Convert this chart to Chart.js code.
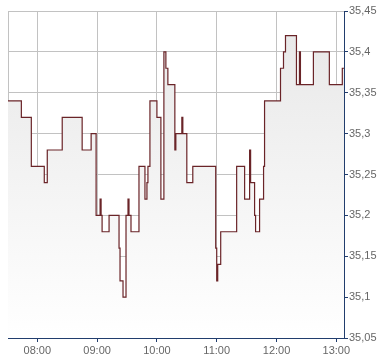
<!DOCTYPE html>
<html>
<head>
<meta charset="utf-8">
<script src="https://cdn.jsdelivr.net/npm/chart.js@4"></script>
<style>
html,body{margin:0;padding:0;background:#fff;}
#wrap{width:390px;height:364px;position:relative;}
</style>
</head>
<body>
<div id="wrap"><canvas id="c" width="390" height="364"></canvas></div>
<script>
const times = ["07:30","07:44","07:54","08:07","08:10","08:25","08:45","08:54","08:59","09:03",
"09:04","09:05","09:12","09:22","09:23","09:26","09:29","09:31","09:32","09:34",
"09:42","09:48","09:50","09:51","09:53","10:00","10:04","10:07","10:09","10:11",
"10:18","10:19","10:25","10:26","10:30","10:36","10:59","11:00","11:01","11:04",
"11:20","11:28","11:33","11:34","11:38","11:39","11:43","11:47","11:48","12:04",
"12:07","12:09","12:20","12:23","12:24","12:37","12:53","13:06","13:08"];
const prices = [35.34,35.32,35.26,35.24,35.28,35.32,35.28,35.30,35.20,35.22,
35.20,35.18,35.20,35.16,35.12,35.10,35.20,35.22,35.20,35.18,
35.26,35.22,35.24,35.26,35.34,35.32,35.22,35.40,35.38,35.36,
35.28,35.30,35.32,35.30,35.24,35.26,35.16,35.12,35.14,35.18,
35.26,35.22,35.28,35.24,35.20,35.18,35.22,35.26,35.34,35.38,
35.40,35.42,35.36,35.40,35.36,35.40,35.36,35.38,35.38];
const hourTicks = ["08:00","09:00","10:00","11:00","12:00","13:00"];
const yTicks = [35.05,35.10,35.15,35.20,35.25,35.30,35.35,35.40,35.45];

function toMin(s){const p=s.split(":");return (+p[0])*60+(+p[1]);}
function fmtTime(m){const h=Math.floor(m/60),mm=Math.round(m%60);return String(h).padStart(2,"0")+":"+String(mm).padStart(2,"0");}
function fmtPrice(v){return String(Math.round(v*100)/100).replace(".",",");}

const points = times.map((t,i)=>({x:toMin(t),y:prices[i]}));

const GRID="#c2c2c2", NAVY="#213d6d", LINE="#6a2428", TXT="#666666";

const framePlugin = {
  id:"frame",
  beforeDatasetsDraw(chart){
    const a=chart.chartArea, ctx=chart.ctx;
    ctx.save();
    ctx.strokeStyle=GRID; ctx.lineWidth=1;
    ctx.beginPath();
    ctx.moveTo(Math.round(a.left)+0.5, a.bottom);
    ctx.lineTo(Math.round(a.left)+0.5, Math.round(a.top)+0.5);
    ctx.lineTo(a.right, Math.round(a.top)+0.5);
    ctx.stroke();
    ctx.restore();
  }
};

new Chart(document.getElementById("c"),{
  type:"line",
  data:{datasets:[{
    data:points,
    stepped:true,
    borderColor:LINE,
    borderWidth:1.2,
    pointRadius:0,
    fill:"start",
    backgroundColor:(ctx)=>{
      const a=ctx.chart.chartArea;
      if(!a) return "#eeeeee";
      const g=ctx.chart.ctx.createLinearGradient(0,a.top,0,a.bottom);
      g.addColorStop(0,"#e7e7e7");
      g.addColorStop(1,"#ffffff");
      return g;
    }
  }]},
  options:{
    responsive:false,
    animation:false,
    events:[],
    layout:{padding:{left:8,top:11,right:0,bottom:0}},
    plugins:{legend:{display:false},tooltip:{enabled:false}},
    scales:{
      x:{
        type:"linear",
        min:450.6,
        max:787.7,
        afterBuildTicks(s){s.ticks=hourTicks.map(t=>({value:toMin(t)}));},
        afterFit(s){s.height=26;},
        grid:{color:GRID,lineWidth:1,tickLength:4,tickColor:NAVY,drawTicks:true},
        border:{color:NAVY,width:1},
        ticks:{
          autoSkip:false,maxRotation:0,padding:2,color:TXT,
          font:{family:"'Liberation Sans', Arial, sans-serif",size:11},
          callback:(v)=>fmtTime(v)
        }
      },
      y:{
        position:"right",
        min:35.05,
        max:35.45,
        afterBuildTicks(s){s.ticks=yTicks.map(v=>({value:v}));},
        afterFit(s){s.width=46;},
        grid:{color:GRID,lineWidth:1,tickLength:4,tickColor:NAVY,drawTicks:true},
        border:{color:NAVY,width:1},
        ticks:{
          padding:1,color:TXT,
          font:{family:"'Liberation Sans', Arial, sans-serif",size:11},
          callback:(v)=>fmtPrice(v)
        }
      }
    }
  },
  plugins:[framePlugin]
});
</script>
</body>
</html>
